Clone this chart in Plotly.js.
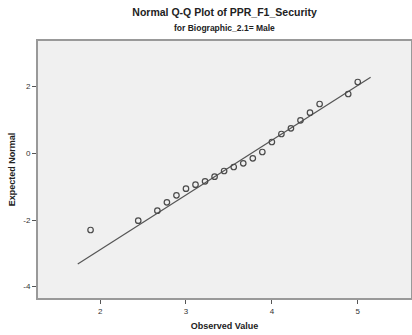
<!DOCTYPE html>
<html>
<head>
<meta charset="utf-8">
<script src="https://cdn.plot.ly/plotly-3.0.1.min.js"></script>
<style>html,body{margin:0;padding:0;background:#fff;}#chart{width:412px;height:335px;}</style>
</head>
<body>
<div id="chart"></div>
<script>
var observed = [1.889, 2.444, 2.667, 2.778, 2.889, 3.0, 3.111, 3.222, 3.333, 3.444, 3.556,
                3.667, 3.778, 3.889, 4.0, 4.111, 4.222, 4.333, 4.444, 4.556, 4.889, 5.0];
var expected = [-2.30, -2.02, -1.72, -1.47, -1.26, -1.06, -0.94, -0.84, -0.70, -0.53, -0.41,
                -0.30, -0.15, 0.04, 0.34, 0.58, 0.75, 0.99, 1.22, 1.48, 1.78, 2.14];
// Reference line endpoints
var lineX = [1.74, 5.15];
var lineY = [-3.32, 2.28];
var xTicks = [2, 3, 4, 5];
var yTicks = [-4, -2, 0, 2];

var traces = [
  {x: lineX, y: lineY, mode: 'lines', type: 'scatter',
   line: {color: '#555555', width: 1.2}, hoverinfo: 'skip'},
  {x: observed, y: expected, mode: 'markers', type: 'scatter',
   marker: {symbol: 'circle-open', size: 5.5, color: '#4a4a4a', line: {width: 1.2}}}
];

var font = 'Liberation Sans, Arial, sans-serif';
var layout = {
  width: 412, height: 335,
  margin: {l: 38, r: 1, t: 41, b: 37},
  paper_bgcolor: '#ffffff',
  plot_bgcolor: '#f0f0f0',
  showlegend: false,
  font: {family: font, color: '#333333', size: 8},
  title: {text: '<b>Normal Q-Q Plot of PPR_F1_Security</b>', font: {family: font, size: 10.5, color: '#222'},
          x: 0.545, xanchor: 'center', y: 0.962, yanchor: 'middle'},
  annotations: [
    {text: '<b>for Biographic_2.1= Male</b>', xref: 'paper', yref: 'paper', x: 0.5, y: 1.0,
     yshift: 13, showarrow: false, font: {family: font, size: 8.5, color: '#222'}, xanchor: 'center', yanchor: 'middle'}
  ],
  xaxis: {
    range: [1.277, 5.62], tickvals: xTicks, ticktext: xTicks.map(String),
    ticks: 'outside', ticklen: 4, tickcolor: '#555', tickwidth: 1,
    showgrid: false, zeroline: false,
    showline: true, linecolor: '#999999', linewidth: 2, mirror: true,
    tickfont: {size: 8, color: '#333'},
    title: {text: '<b>Observed Value</b>', font: {family: font, size: 9, color: '#222'}, standoff: 8}
  },
  yaxis: {
    range: [-4.34, 3.37], tickvals: yTicks, ticktext: yTicks.map(String),
    ticks: 'outside', ticklen: 4, tickcolor: '#555', tickwidth: 1,
    showgrid: false, zeroline: false,
    showline: true, linecolor: '#999999', linewidth: 2, mirror: true,
    tickfont: {size: 8, color: '#333'},
    title: {text: '<b>Expected Normal</b>', font: {family: font, size: 9, color: '#222'}, standoff: 6}
  }
};

Plotly.newPlot('chart', traces, layout, {displayModeBar: false, staticPlot: true});
</script>
</body>
</html>
